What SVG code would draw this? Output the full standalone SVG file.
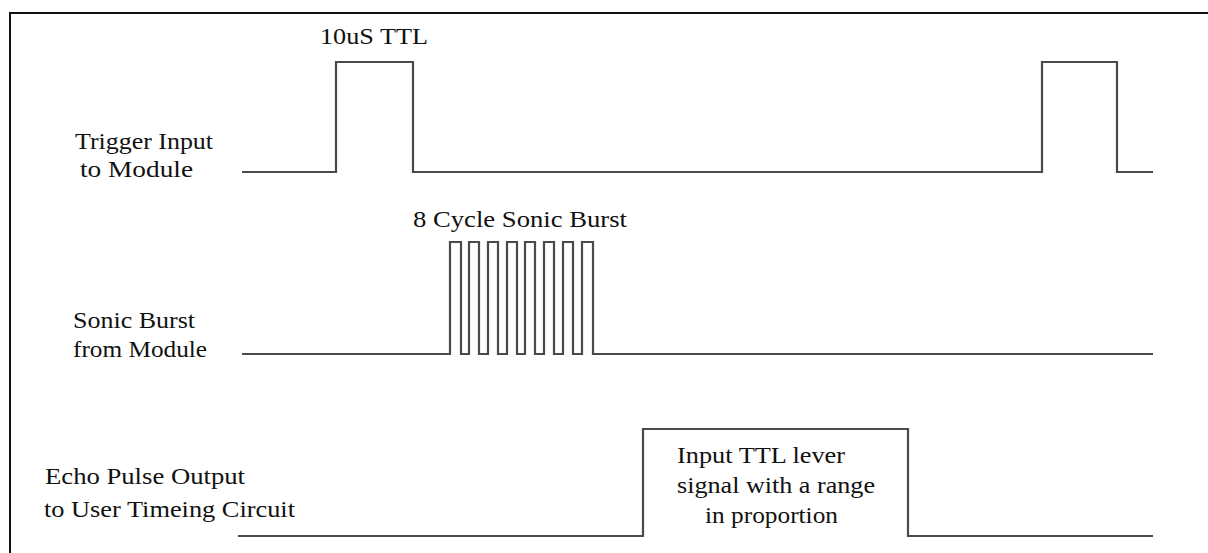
<svg xmlns="http://www.w3.org/2000/svg" width="1208" height="553" viewBox="0 0 1208 553">
<style>
.lbl{font-family:"Liberation Serif","Times New Roman",serif;font-size:24px;fill:#111}
.sig{fill:none;stroke:#4a4a4a;stroke-width:2.2;stroke-linejoin:miter}
.frame{fill:none;stroke:#111;stroke-width:2}
</style>
<rect width="1208" height="553" fill="#ffffff"/>
<path class="frame" d="M10,553 V13 H1208"/>
<g id="trigger">
<text class="lbl" x="75" y="149" textLength="138" lengthAdjust="spacingAndGlyphs">Trigger Input</text>
<text class="lbl" x="80" y="177" textLength="113" lengthAdjust="spacingAndGlyphs">to Module</text>
<text class="lbl" x="320" y="44" textLength="108" lengthAdjust="spacingAndGlyphs">10uS TTL</text>
</g>
<g id="sonic">
<text class="lbl" x="73" y="328" textLength="122" lengthAdjust="spacingAndGlyphs">Sonic Burst</text>
<text class="lbl" x="73" y="357" textLength="134" lengthAdjust="spacingAndGlyphs">from Module</text>
<text class="lbl" x="413" y="227" textLength="214" lengthAdjust="spacingAndGlyphs">8 Cycle Sonic Burst</text>
</g>
<g id="echo">
<text class="lbl" x="45" y="484" textLength="200" lengthAdjust="spacingAndGlyphs">Echo Pulse Output</text>
<text class="lbl" x="44" y="517" textLength="251" lengthAdjust="spacingAndGlyphs">to User Timeing Circuit</text>
<text class="lbl" x="677" y="463" textLength="168" lengthAdjust="spacingAndGlyphs">Input TTL lever</text>
<text class="lbl" x="677" y="493" textLength="198" lengthAdjust="spacingAndGlyphs">signal with a range</text>
<text class="lbl" x="705" y="523" textLength="133" lengthAdjust="spacingAndGlyphs">in proportion</text>
</g>
<g id="connectors">
<path class="sig" d="M242,172 H336 V62 H413 V172 H1042 V62 H1117 V172 H1153"/>
<path class="sig" d="M242,354 H450 V242 H461 V354 H469 V242 H479 V354 H488 V242 H498 V354 H507 V242 H517 V354 H525 V242 H535 V354 H544 V242 H554 V354 H563 V242 H573 V354 H582 V242 H593 V354 H1153"/>
<path class="sig" d="M238,536 H643 V429 H908 V536 H1153"/>
</g>
</svg>
